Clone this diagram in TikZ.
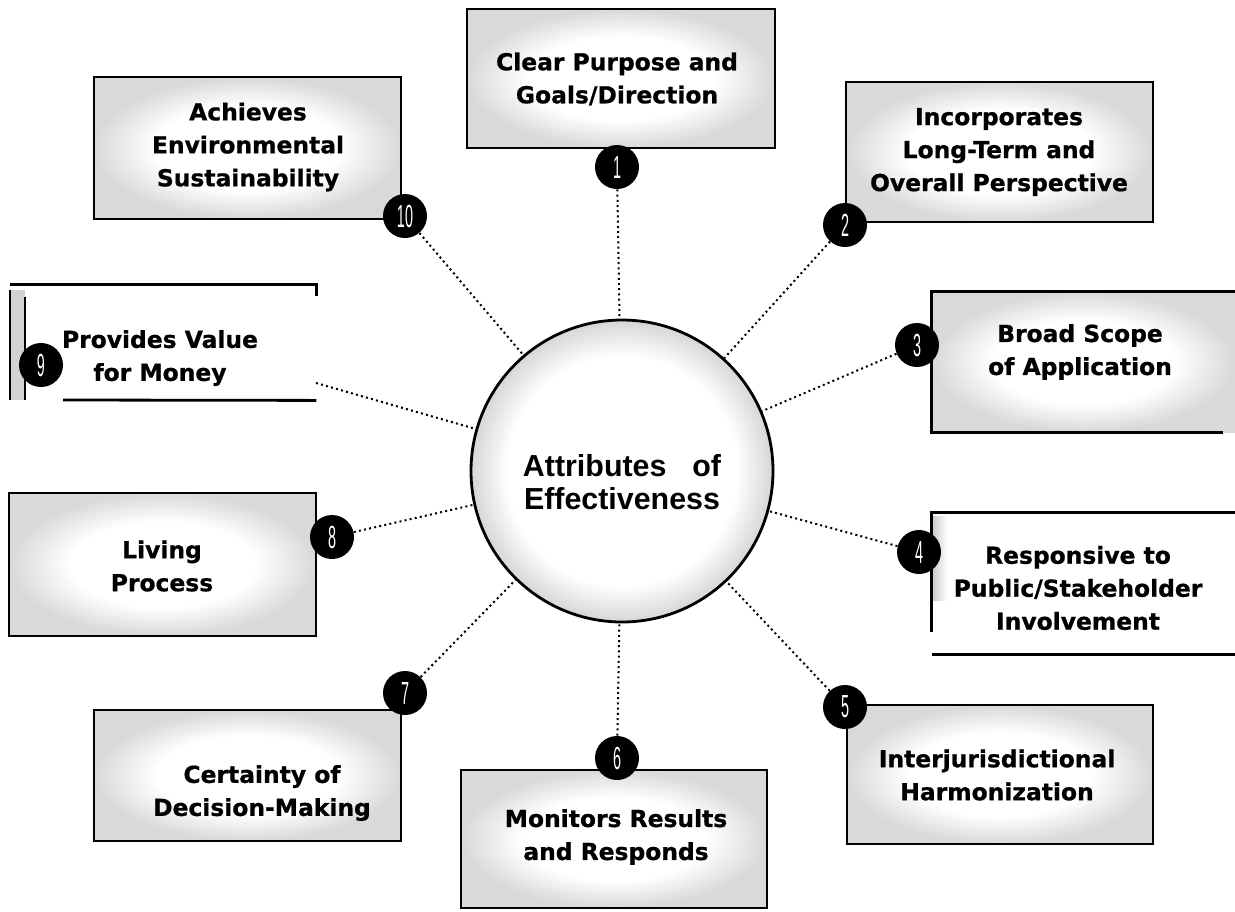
\documentclass[tikz,border=0pt]{standalone}
\usepackage{graphicx}
\usepackage{fontspec}
\setmainfont{Liberation Sans}
\newfontfamily\boxfont{DejaVu Sans}[BoldFeatures={FakeBold=0.8}]
\usetikzlibrary{fit}

% soft grey rim, white centre (edge of the filled area sits at 25bp)
\pgfdeclareradialshading{boxglow}{\pgfpoint{0bp}{0bp}}{color(0bp)=(white); color(15bp)=(white); color(25bp)=(gray!30); color(50bp)=(gray!30)}
\pgfdeclareradialshading{discglow}{\pgfpoint{0bp}{0bp}}{color(0bp)=(white); color(19bp)=(white); color(25bp)=(gray!32); color(50bp)=(gray!32)}

\newcommand\numtag[1]{\scalebox{0.45}[1]{#1}}

\begin{document}
\begin{tikzpicture}[x=0.5pt,y=-0.5pt,
  panel/.style={rectangle, inner sep=0pt, draw=black, line width=1.4pt, shading=boxglow},
  bare/.style={rectangle, inner sep=0pt, draw=none},
  rim/.style={line width=1.4pt},
  boxtext/.style={font=\boxfont\bfseries\fontsize{11.7}{16.5}\selectfont, align=center, inner sep=0pt},
  badge/.style={circle, fill=black, minimum size=22pt, inner sep=0pt, text=white, font=\fontsize{16}{16}\selectfont},
  conn/.style={line width=1pt, dash pattern=on 1pt off 1.6pt},
]
\useasboundingbox (0,0) rectangle (1235,911);

% central disc
\node[circle, minimum size=151pt, inner sep=0pt, draw=black, line width=1.4pt, shading=discglow] (disc) at (622,471) {};
\node[font=\bfseries\fontsize{15.2}{16.5}\selectfont, align=center, inner sep=0pt] (title) at (622,482) {Attributes\hspace{0.85em}of\\Effectiveness};

% panels
\node[panel, fit={(467,9) (775,148)}] (b1) {};
\node[panel, fit={(846,82) (1153,222)}] (b2) {};
\node[bare, shading=boxglow, fit={(932,292) (1235,432)}] (b3) {};
\draw[rim] (b3.north east) -- (b3.north west) -- (b3.south west) -- ++(291,0);
\node[bare, fill=white, fit={(932,513) (1235,654)}] (b4) {};
\shade[left color=gray!40, right color=white] (933,516) rectangle (947,600);
\draw[rim] (b4.north east) -- (b4.north west) -- ++(0,119);
\draw[rim] (b4.south west) -- (b4.south east);
\node[panel, fit={(847,705) (1153,844)}] (b5) {};
\node[panel, fit={(461,770) (767,908)}] (b6) {};
\node[panel, fit={(94,710) (401,841)}] (b7) {};
\node[panel, fit={(9,493) (316,636)}] (b8) {};
\node[bare, fill=white, fit={(10,285) (316,400)}] (b9) {};
\fill[gray!35] (10,290) rectangle (25,400);
\draw[rim] (b9.north west) -- (b9.north east) -- ++(0,11);
\draw[line width=0.6pt] (10,290) -- (10,400);
\draw[rim] (25,297) -- (25,400);
\draw[rim] (63,400) -- (b9.south east);
\node[panel, fit={(94,77) (401,219)}] (b10) {};

% panel texts
\node[boxtext] (t1) at (617,79) {Clear Purpose and\\Goals/Direction};
\node[boxtext] (t2) at (999,152) {Incorporates\\Long-Term and\\Overall Perspective};
\node[boxtext] (t3) at (1080,352) {Broad Scope\\of Application};
\node[boxtext] (t4) at (1078,588) {Responsive to\\Public/Stakeholder\\Involvement};
\node[boxtext] (t5) at (997,775) {Interjurisdictional\\Harmonization};
\node[boxtext] (t6) at (616,837) {Monitors Results\\and Responds};
\node[boxtext] (t7) at (262,793) {Certainty of\\Decision-Making};
\node[boxtext] (t8) at (162,566) {Living\\Process};
\node[boxtext] (t9) at (160,358) {Provides Value\\for Money};
\node[boxtext] (t10) at (248,147) {Achieves\\Environmental\\Sustainability};

% numbered badges
\node[badge] (n1) at (617,167) {\numtag{1}};
\node[badge] (n2) at (845,225) {\numtag{2}};
\node[badge] (n3) at (917,345) {\numtag{3}};
\node[badge] (n4) at (919,552) {\numtag{4}};
\node[badge] (n5) at (845,707) {\numtag{5}};
\node[badge] (n6) at (617,758) {\numtag{6}};
\node[badge] (n7) at (405,693) {\numtag{7}};
\node[badge] (n8) at (332,537) {\numtag{8}};
\node[badge] (n9) at (41,365) {\numtag{9}};
\node[badge] (n10) at (405,216) {\numtag{10}};

% dotted spokes
\coordinate (e9) at (316,383);
\draw[conn] (n1) -- (disc);
\draw[conn] (n2) -- (disc);
\draw[conn] (n3) -- (disc);
\draw[conn] (n4) -- (disc);
\draw[conn] (n5) -- (disc);
\draw[conn] (n6) -- (disc);
\draw[conn] (n7) -- (disc);
\draw[conn] (n8) -- (disc);
\draw[conn] (e9) -- (disc);
\draw[conn] (n10) -- (disc);
\end{tikzpicture}
\end{document}
